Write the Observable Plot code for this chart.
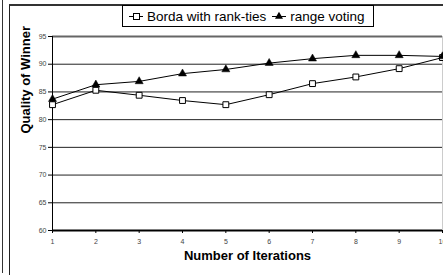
<!DOCTYPE html>
<html>
<head>
<meta charset="utf-8">
<script src="https://cdn.jsdelivr.net/npm/d3@7"></script>
<script src="https://cdn.jsdelivr.net/npm/@observablehq/plot@0.6"></script>
<style>
  html, body { margin: 0; padding: 0; background: #fff; overflow: hidden; }
  body { width: 443px; height: 275px; position: relative; font-family: "Liberation Sans", Arial, sans-serif; }
  #outer { position: absolute; left: 2px; top: 0; width: 0; height: 273px; border-left: 1px solid #333; }
  #frame { position: absolute; left: 9px; top: 4px; width: 440px; height: 269px; border-left: 1px solid #222; border-top: 2px solid #333; border-bottom: 1px solid #555; }
  #chart { position: absolute; left: 0; top: 0; }
  #legend { position: absolute; left: 122px; top: 5px; width: 250px; height: 20px; border: 1px solid #000; background: #fff;
            font-size: 13.5px; display: flex; align-items: center; white-space: nowrap; color: #000; }
  #legend svg { display: inline-block; }
</style>
</head>
<body>
<div id="outer"></div>
<div id="frame"></div>
<div id="chart"></div>
<div id="legend"></div>
<script>
const iterations = [1, 2, 3, 4, 5, 6, 7, 8, 9, 10];
const bordaRankTies = [82.7, 85.3, 84.4, 83.45, 82.7, 84.5, 86.5, 87.7, 89.2, 91.2];
const rangeVoting = [83.7, 86.3, 86.9, 88.3, 89.05, 90.2, 91.0, 91.6, 91.6, 91.4];
const yTicks = [60, 65, 70, 75, 80, 85, 90, 95];
const gridLines = [65, 70, 75, 80, 85, 90];
const seriesNames = ["Borda with rank-ties", "range voting"];

const borda = iterations.map((x, i) => ({x, y: bordaRankTies[i]}));
const range = iterations.map((x, i) => ({x, y: rangeVoting[i]}));

const chart = Plot.plot({
  width: 443,
  height: 275,
  marginLeft: 52,
  marginRight: 1,
  marginTop: 36,
  marginBottom: 45,
  style: {fontFamily: "Liberation Sans, Arial, sans-serif", background: "transparent", overflow: "visible"},
  x: {domain: [1, 10]},
  y: {domain: [60, 95]},
  marks: [
    Plot.ruleX([10], {stroke: "#ccc", strokeWidth: 1}),
    Plot.ruleY(gridLines, {stroke: "#222", strokeWidth: 1}),
    Plot.ruleY([95], {stroke: "#666", strokeWidth: 2}),
    Plot.ruleX([1], {stroke: "#000", strokeWidth: 1}),
    Plot.ruleY([60], {stroke: "#000", strokeWidth: 2}),
    Plot.axisY(yTicks, {tickSize: 4, tickPadding: 2, fontSize: 7, fill: "#444", stroke: "#000", label: null}),
    Plot.axisX(iterations, {tickSize: 3, tickPadding: 6, fontSize: 7, fill: "#444", stroke: "#000", label: null}),
    Plot.text(["Number of Iterations"], {frameAnchor: "bottom", dy: 29, fontSize: 13, fontWeight: "bold", fill: "#000"}),
    Plot.text(["Quality of Winner"], {frameAnchor: "left", dx: -26.5, rotate: -90, fontSize: 13, fontWeight: "bold", fill: "#000"}),
    Plot.line(borda, {x: "x", y: "y", stroke: "#000", strokeWidth: 1}),
    Plot.line(range, {x: "x", y: "y", stroke: "#000", strokeWidth: 1}),
    Plot.dot(borda, {x: "x", y: "y", symbol: "square", r: 3.3, fill: "#fff", stroke: "#000", strokeWidth: 1}),
    Plot.dot(range, {x: "x", y: "y", symbol: "triangle", r: 3, fill: "#000", stroke: "#000", strokeWidth: 0.5})
  ]
});
document.getElementById("chart").appendChild(chart);

// Legend
const legend = document.getElementById("legend");
function symbolSvg(kind) {
  const s = d3.create("svg").attr("width", 15).attr("height", 12);
  s.append("line").attr("x1", 0).attr("x2", 14).attr("y1", 6.5).attr("y2", 6.5).attr("stroke", "#000");
  if (kind === "square") {
    s.append("rect").attr("x", 4.5).attr("y", 3.5).attr("width", 6).attr("height", 6).attr("fill", "#fff").attr("stroke", "#000");
  } else {
    s.append("path").attr("d", d3.symbol(d3.symbolTriangle, 28)()).attr("transform", "translate(7,6.5)").attr("fill", "#000");
  }
  return s.node();
}
const kinds = ["square", "triangle"];
seriesNames.forEach((name, i) => {
  const sym = symbolSvg(kinds[i]);
  sym.style.marginLeft = "6px";
  sym.style.marginRight = "3px";
  legend.appendChild(sym);
  const span = document.createElement("span");
  span.textContent = name;
  legend.appendChild(span);
});
</script>
</body>
</html>
